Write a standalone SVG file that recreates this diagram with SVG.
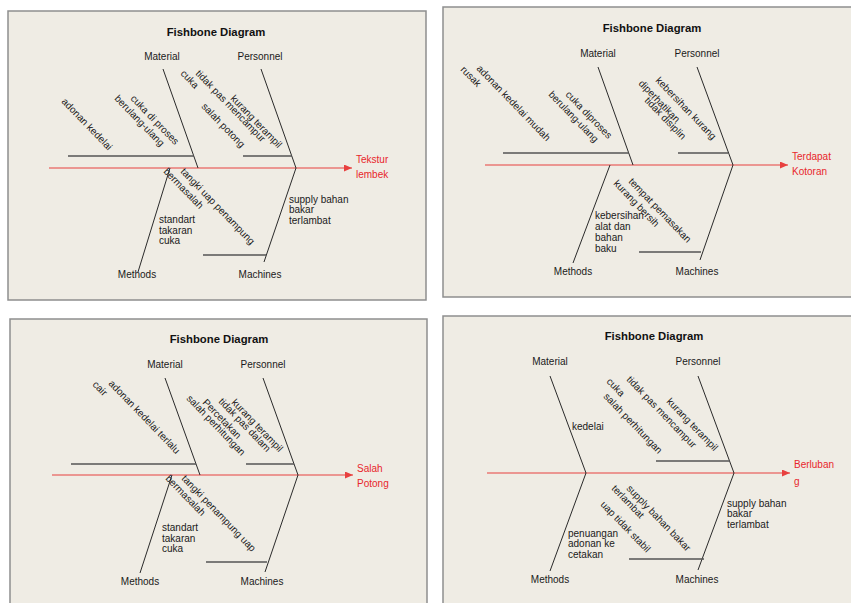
<svg xmlns="http://www.w3.org/2000/svg" width="851" height="603" viewBox="0 0 851 603">
<style>
.frame{fill:#EFECE4;stroke:#8E8E8E;stroke-width:1.5}
.title{font-family:"Liberation Sans",Arial,sans-serif;font-size:11.3px;font-weight:bold;fill:#111;text-anchor:middle}
.cat{font-family:"Liberation Sans",Arial,sans-serif;font-size:10px;fill:#1a1a1a;text-anchor:middle}
.t{font-family:"Liberation Sans",Arial,sans-serif;font-size:10px;fill:#1a1a1a}
.eff{font-family:"Liberation Sans",Arial,sans-serif;font-size:10px;fill:#E8262B}
.bone{stroke:#2a2a2a;stroke-width:1;fill:none}
.sub{stroke:#555;stroke-width:1.5;fill:none}
.spine{stroke:#E8403F;stroke-width:1.2;fill:none;marker-end:url(#arr)}
</style>
<defs>
<marker id="arr" markerUnits="userSpaceOnUse" markerWidth="9" markerHeight="7" refX="8" refY="3.5" orient="auto">
<path d="M0,0 L8,3.5 L0,7 z" fill="#E8403F"/>
</marker>
</defs>
<rect width="851" height="603" fill="#FFFFFF"/>

<!-- Panel 1 -->
<g id="panel1">
<rect class="frame" x="8" y="11" width="418" height="289"/>
<text class="title" x="216" y="36">Fishbone Diagram</text>
<g id="p1-connectors">
<line class="spine" x1="49" y1="168" x2="352" y2="168"/>
<line class="bone" x1="163" y1="69" x2="198" y2="168"/>
<line class="bone" x1="261" y1="69" x2="296" y2="168"/>
<line class="bone" x1="170" y1="168" x2="138" y2="272"/>
<line class="bone" x1="296" y1="168" x2="264" y2="262"/>
<line class="sub" x1="68" y1="156" x2="194" y2="156"/>
<line class="sub" x1="243" y1="156" x2="292" y2="156"/>
<line class="sub" x1="203" y1="255" x2="266" y2="255"/>
</g>
<g id="p1-material"><text class="cat" x="162" y="60">Material</text></g>
<g id="p1-personnel"><text class="cat" x="260" y="60">Personnel</text></g>
<g id="p1-methods"><text class="cat" x="137" y="278">Methods</text></g>
<g id="p1-machines"><text class="cat" x="260" y="278">Machines</text></g>
<g id="p1-effect"><text class="eff" x="356" y="163">Tekstur</text><text class="eff" x="356" y="178">lembek</text></g>
<g id="p1-causes">
<text class="t" transform="translate(61 102) rotate(46)">adonan kedelai</text>
<text class="t" transform="translate(130 99) rotate(46)">cuka di proses</text>
<text class="t" transform="translate(114 99) rotate(46)">berulang-ulang</text>
<text class="t" transform="translate(195 74) rotate(46)">tidak pas mencampur</text>
<text class="t" transform="translate(180 74) rotate(46)">cuka</text>
<text class="t" transform="translate(201 107) rotate(46)">salah potong</text>
<text class="t" transform="translate(230 99) rotate(46)">kurang terampil</text>
<text class="t" transform="translate(180 172) rotate(46)">tangki uap penampung</text>
<text class="t" transform="translate(163 172) rotate(46)">bermasalah</text>
<text class="t" x="159" y="223">standart</text>
<text class="t" x="159" y="234">takaran</text>
<text class="t" x="159" y="244">cuka</text>
<text class="t" x="289" y="203">supply bahan</text>
<text class="t" x="289" y="213">bakar</text>
<text class="t" x="289" y="224">terlambat</text>
</g>
</g>

<!-- Panel 2 -->
<g id="panel2">
<rect class="frame" x="443" y="7" width="412" height="290"/>
<text class="title" x="652" y="32">Fishbone Diagram</text>
<g id="p2-connectors">
<line class="spine" x1="485" y1="165" x2="788" y2="165"/>
<line class="bone" x1="598" y1="67" x2="633" y2="165"/>
<line class="bone" x1="697" y1="67" x2="733" y2="165"/>
<line class="bone" x1="610" y1="165" x2="573" y2="263"/>
<line class="bone" x1="733" y1="165" x2="700" y2="260"/>
<line class="sub" x1="503" y1="153" x2="629" y2="153"/>
<line class="sub" x1="678" y1="153" x2="728" y2="153"/>
<line class="sub" x1="639" y1="252" x2="701" y2="252"/>
</g>
<g id="p2-material"><text class="cat" x="598" y="57">Material</text></g>
<g id="p2-personnel"><text class="cat" x="697" y="57">Personnel</text></g>
<g id="p2-methods"><text class="cat" x="573" y="275">Methods</text></g>
<g id="p2-machines"><text class="cat" x="697" y="275">Machines</text></g>
<g id="p2-effect"><text class="eff" x="792" y="160">Terdapat</text><text class="eff" x="792" y="175">Kotoran</text></g>
<g id="p2-causes">
<text class="t" transform="translate(476 69) rotate(46)">adonan kedelai mudah</text>
<text class="t" transform="translate(460 70) rotate(46)">rusak</text>
<text class="t" transform="translate(565 95) rotate(46)">cuka diproses</text>
<text class="t" transform="translate(548 95) rotate(46)">berulang-ulang</text>
<text class="t" transform="translate(655 81) rotate(46)">kebersihan kurang</text>
<text class="t" transform="translate(638 84) rotate(46)">diperhatikan</text>
<text class="t" transform="translate(644 101) rotate(46)">tidak disiplin</text>
<text class="t" transform="translate(628 182) rotate(46)">tempat pemasakan</text>
<text class="t" transform="translate(613 184) rotate(46)">kurang bersih</text>
<text class="t" x="595" y="219">kebersihan</text>
<text class="t" x="595" y="230">alat dan</text>
<text class="t" x="595" y="241">bahan</text>
<text class="t" x="595" y="252">baku</text>
</g>
</g>

<!-- Panel 3 -->
<g id="panel3">
<rect class="frame" x="10" y="319" width="417" height="290"/>
<text class="title" x="219" y="343">Fishbone Diagram</text>
<g id="p3-connectors">
<line class="spine" x1="52" y1="475" x2="353" y2="475"/>
<line class="bone" x1="165" y1="378" x2="200" y2="475"/>
<line class="bone" x1="263" y1="378" x2="298" y2="475"/>
<line class="bone" x1="172" y1="475" x2="140" y2="573"/>
<line class="bone" x1="298" y1="475" x2="265" y2="572"/>
<line class="sub" x1="71" y1="464" x2="196" y2="464"/>
<line class="sub" x1="246" y1="464" x2="294" y2="464"/>
<line class="sub" x1="206" y1="562" x2="267" y2="562"/>
</g>
<g id="p3-material"><text class="cat" x="165" y="368">Material</text></g>
<g id="p3-personnel"><text class="cat" x="263" y="368">Personnel</text></g>
<g id="p3-methods"><text class="cat" x="140" y="585">Methods</text></g>
<g id="p3-machines"><text class="cat" x="262" y="585">Machines</text></g>
<g id="p3-effect"><text class="eff" x="357" y="472">Salah</text><text class="eff" x="357" y="487">Potong</text></g>
<g id="p3-causes">
<text class="t" transform="translate(108 384) rotate(46)">adonan kedelai terlalu</text>
<text class="t" transform="translate(92 385) rotate(46)">cair</text>
<text class="t" transform="translate(231 403) rotate(46)">kurang terampil</text>
<text class="t" transform="translate(218 402) rotate(46)">tidak pas dalam</text>
<text class="t" transform="translate(202 403) rotate(46)">Percetakan</text>
<text class="t" transform="translate(186 399) rotate(46)">salah perhitungan</text>
<text class="t" transform="translate(181 479) rotate(46)">tangki penampung uap</text>
<text class="t" transform="translate(165 479) rotate(46)">bermasalah</text>
<text class="t" x="162" y="531">standart</text>
<text class="t" x="162" y="542">takaran</text>
<text class="t" x="162" y="552">cuka</text>
</g>
</g>

<!-- Panel 4 -->
<g id="panel4">
<rect class="frame" x="443" y="316" width="412" height="293"/>
<text class="title" x="654" y="340">Fishbone Diagram</text>
<g id="p4-connectors">
<line class="spine" x1="487" y1="473" x2="790" y2="473"/>
<line class="bone" x1="550" y1="376" x2="586" y2="473"/>
<line class="bone" x1="698" y1="376" x2="734" y2="473"/>
<line class="bone" x1="586" y1="473" x2="550" y2="571"/>
<line class="bone" x1="734" y1="473" x2="698" y2="570"/>
<line class="sub" x1="656" y1="461" x2="730" y2="461"/>
<line class="sub" x1="629" y1="559" x2="704" y2="559"/>
</g>
<g id="p4-material"><text class="cat" x="550" y="365">Material</text></g>
<g id="p4-personnel"><text class="cat" x="698" y="365">Personnel</text></g>
<g id="p4-methods"><text class="cat" x="550" y="583">Methods</text></g>
<g id="p4-machines"><text class="cat" x="697" y="583">Machines</text></g>
<g id="p4-effect"><text class="eff" x="794" y="468">Berluban</text><text class="eff" x="794" y="485">g</text></g>
<g id="p4-causes">
<text class="t" x="572" y="430">kedelai</text>
<text class="t" transform="translate(666 402) rotate(46)">kurang terampil</text>
<text class="t" transform="translate(626 380) rotate(46)">tidak pas mencampur</text>
<text class="t" transform="translate(606 382) rotate(46)">cuka</text>
<text class="t" transform="translate(603 397) rotate(46)">salah perhitungan</text>
<text class="t" transform="translate(626 489) rotate(46)">supply bahan bakar</text>
<text class="t" transform="translate(611 489) rotate(46)">terlambat</text>
<text class="t" transform="translate(600 505) rotate(46)">uap tidak stabil</text>
<text class="t" x="568" y="537">penuangan</text>
<text class="t" x="568" y="547">adonan ke</text>
<text class="t" x="568" y="558">cetakan</text>
<text class="t" x="727" y="507">supply bahan</text>
<text class="t" x="727" y="517">bakar</text>
<text class="t" x="727" y="528">terlambat</text>
</g>
</g>
</svg>
